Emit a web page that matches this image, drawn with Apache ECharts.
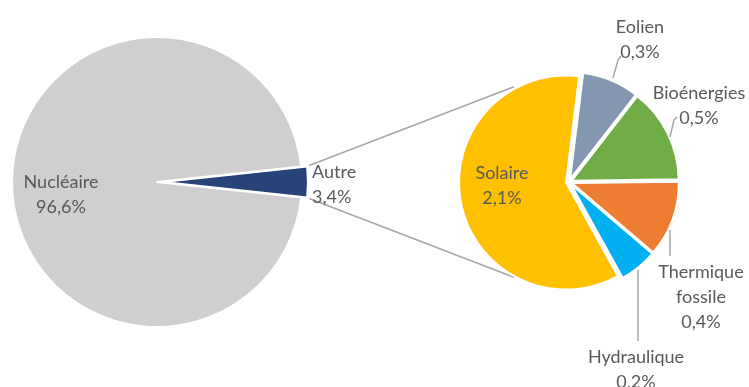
<!DOCTYPE html>
<html><head><meta charset="utf-8">
<script src="https://cdn.jsdelivr.net/npm/echarts@6/dist/echarts.min.js"></script>
<style>html,body{margin:0;padding:0;background:#fff}#c{width:749px;height:387px}</style>
</head><body><div id="c"></div>
<script>
// ---- data ----
const mainCategories = ['Autre', 'Nucléaire'];
const mainValues = [3.4, 96.6];
const detailCategories = ['Eolien', 'Bioénergies', 'Thermique fossile', 'Hydraulique', 'Solaire'];
const detailValues = [0.3, 0.5, 0.4, 0.2, 2.1];

// ---- styles / layout ----
const mainColors = ['#264478', '#d0cece'];
const detailColors = ['#8497b0', '#70ad47', '#ed7d31', '#00b0f0', '#ffc000'];
const LP = { cx: 157, cy: 182, r: 145, off: 6 };
const RP = { cx: 569, cy: 182, r: 107, off: 3 };
const FONT = 'Lato';
const FS = 18;
const LH = 25;
const TXT = '#595959';
const LINE = '#a6a6a6';

const mainLabelPos = [
  { x: 312, y: 184.5, align: 'left' },
  { x: 61, y: 194.5, align: 'center' }
];
const detailLabelPos = [
  { x: 640, y: 39.5, align: 'center', line: [[613, 78], [618, 60], [621, 56]] },
  { x: 699, y: 105.5, align: 'center', line: [[670, 137], [674, 120], [677, 117]] },
  { x: 701, y: 297, align: 'center', line: [[670, 230], [670, 256]] },
  { x: 636, y: 369.5, align: 'center', line: [[638, 270], [638, 341]] },
  { x: 502, y: 185.5, align: 'center', line: null }
];

const fmt = (name, value) => name.split(' ').join('\n') + '\n' + value.toFixed(1).replace('.', ',') + '%';

const mainTotal = mainValues.reduce((a, b) => a + b, 0);
const autreHalf = mainValues[0] / mainTotal * 180; // degrees
const detailStartFromTop = 7; // degrees clockwise from 12 o'clock

const chart = echarts.init(document.getElementById('c'), null, { renderer: 'canvas' });

// connector lines computed from geometry
const rad = Math.PI / 180;
const aTop = autreHalf * rad;
const lx = LP.cx + LP.off + LP.r * Math.cos(aTop);
const lyTop = LP.cy - LP.r * Math.sin(aTop);
const lyBot = LP.cy + LP.r * Math.sin(aTop);
const tAng = 120 * rad, tR = RP.r + 3;
const rxTop = RP.cx + tR * Math.cos(tAng), ryTop = RP.cy - tR * Math.sin(tAng);
const rxBot = RP.cx + tR * Math.cos(tAng), ryBot = RP.cy + tR * Math.sin(tAng);

const graphics = [
  { type: 'line', z: 1, shape: { x1: lx + 2, y1: lyTop - 1, x2: rxTop, y2: ryTop }, style: { stroke: LINE, lineWidth: 1.5 } },
  { type: 'line', z: 1, shape: { x1: lx + 2, y1: lyBot + 1, x2: rxBot, y2: ryBot }, style: { stroke: LINE, lineWidth: 1.5 } }
];
const textEl = (s, text) => ({
  type: 'text', z: 100, x: s.x, y: s.y,
  style: { text, align: s.align, verticalAlign: 'middle', fill: TXT,
           font: FS + 'px ' + FONT, lineHeight: LH }
});
mainCategories.forEach((n, i) => graphics.push(textEl(mainLabelPos[i], fmt(n, mainValues[i]))));
detailCategories.forEach((n, i) => {
  const s = detailLabelPos[i];
  graphics.push(textEl(s, fmt(n, detailValues[i])));
  if (s.line) graphics.push({ type: 'polyline', z: 99, shape: { points: s.line },
    style: { stroke: LINE, lineWidth: 1.5, fill: null } });
});

chart.setOption({
  animation: false,
  backgroundColor: '#ffffff',
  graphic: graphics,
  series: [
    {
      type: 'pie',
      center: [LP.cx, LP.cy],
      radius: [0, LP.r],
      startAngle: autreHalf,
      clockwise: true,
      selectedMode: 'multiple',
      selectedOffset: LP.off,
      emphasis: { disabled: true },
      itemStyle: { borderColor: '#fff', borderWidth: 2 },
      label: { show: false },
      labelLine: { show: false },
      data: mainCategories.map((n, i) => ({
        name: n, value: mainValues[i], selected: i === 0,
        itemStyle: { color: mainColors[i] }
      }))
    },
    {
      type: 'pie',
      center: [RP.cx, RP.cy],
      radius: [0, RP.r],
      startAngle: 90 - detailStartFromTop,
      clockwise: true,
      selectedMode: 'multiple',
      selectedOffset: RP.off,
      emphasis: { disabled: true },
      itemStyle: { borderColor: '#fff', borderWidth: 2 },
      label: { show: false },
      labelLine: { show: false },
      data: detailCategories.map((n, i) => ({
        name: n, value: detailValues[i], selected: true,
        itemStyle: { color: detailColors[i] }
      }))
    }
  ]
});
</script>
</body></html>
